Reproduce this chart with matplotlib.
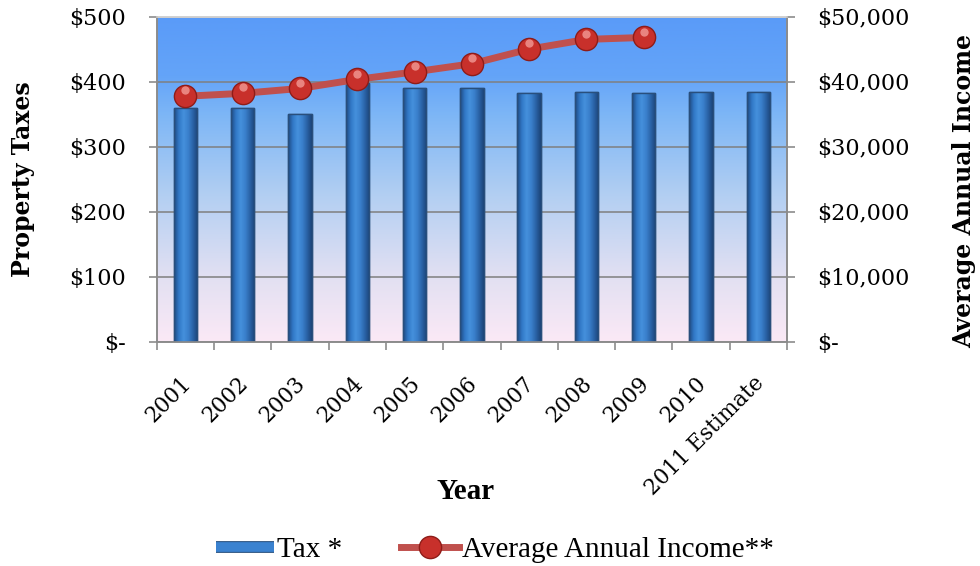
import matplotlib
matplotlib.use("Agg")
import matplotlib.pyplot as plt
import matplotlib.patheffects as pe
import matplotlib.transforms as mtrans
import numpy as np
from matplotlib.colors import LinearSegmentedColormap
from matplotlib.lines import Line2D

years = ["2001", "2002", "2003", "2004", "2005", "2006", "2007", "2008",
         "2009", "2010", "2011 Estimate"]
tax = [360, 360, 350, 398, 391, 391, 383, 385, 383, 385, 385]
income = [37800, 38250, 39000, 40400, 41550, 42800, 45050, 46550, 46850]

left_labels = ["$-", "$100", "$200", "$300", "$400", "$500"]
right_labels = ["$-", "$10,000", "$20,000", "$30,000", "$40,000", "$50,000"]

plt.rcParams['font.family'] = ["DejaVu Serif"]
times = ["Liberation Serif", "DejaVu Serif"]

fig = plt.figure(figsize=(9.8, 5.66), dpi=100)
ax = fig.add_axes([0.160, 0.396, 0.643, 0.574])
ax2 = ax.twinx()

# plot area background, blue at top fading to pink
bg = LinearSegmentedColormap.from_list(
    "bg", [(0, "#fbe9f6"), (0.2, "#e2e0f2"), (0.45, "#b3cff2"),
           (0.7, "#7db6f6"), (0.82, "#64a4f8"), (1, "#5a9bf8")])
ax.imshow(np.linspace(0, 1, 256).reshape(-1, 1), cmap=bg, aspect="auto",
          extent=[0, 1, 0, 1], transform=ax.transAxes, origin="lower", zorder=0)

x = np.arange(len(years))
bars = ax.bar(x, tax, width=0.41, color="#2f6fb8", edgecolor="#27507f",
              linewidth=1.0, zorder=3)
# cylinder-like shading across each bar
barcm = LinearSegmentedColormap.from_list(
    "bar", ["#1f4a82", "#3178c6", "#4590dc", "#3a80cc", "#2a62a6", "#1b4478"])
for b in bars:
    im = ax.imshow(np.linspace(0, 1, 64).reshape(1, -1), cmap=barcm, aspect="auto",
                   extent=[b.get_x(), b.get_x() + b.get_width(), 0, b.get_height()],
                   zorder=3.5)
    im.set_clip_path(b)
    ax.bar(b.get_x() + b.get_width() / 2, b.get_height(), width=b.get_width(),
           fill=False, edgecolor="#294f7c", linewidth=1.0, zorder=4)

ax.set_xlim(-0.5, len(years) - 0.5)
ax.set_ylim(0, 500)
ax.set_yticks(range(0, 501, 100))
ax.set_yticklabels(left_labels)
ax.yaxis.grid(True, color="#7f7f7f", linewidth=1.1, zorder=1)
ax.set_axisbelow(True)

ax.set_xticks(x)
ax.set_xticklabels(years, rotation=45, ha="right", va="top", rotation_mode="anchor")
ax.set_xticks(np.arange(-0.5, len(years), 1), minor=True)
ax.tick_params(axis="x", which="major", length=0, pad=22, labelsize=15.5)
ax.tick_params(axis="x", which="minor", length=6, color="#8c8c8c", width=1.2,
               direction="out")
ax.tick_params(axis="y", length=6, color="#8c8c8c", width=1.2, labelsize=16, pad=16)
shift = mtrans.ScaledTranslation(-4 / 72, 0, fig.dpi_scale_trans)
for lab in ax.get_xticklabels():
    lab.set_transform(lab.get_transform() + shift)

ax2.plot(x[:len(income)], income, color="#c0504d", linewidth=5,
         marker="o", markersize=16, markerfacecolor="#c8302b",
         markeredgecolor="#8e1c18", markeredgewidth=1.0, zorder=5)
ax2.plot(x[:len(income)], np.array(income) + 900, linestyle="none",
         marker="o", markersize=6, markerfacecolor="#f29a95", alpha=0.8,
         markeredgewidth=0, zorder=6)
ax2.set_ylim(0, 50000)
ax2.set_yticks(range(0, 50001, 10000))
ax2.set_yticklabels(right_labels)
ax2.tick_params(axis="y", length=6, color="#8c8c8c", width=1.2, labelsize=16, pad=16)

for a in (ax, ax2):
    for s in a.spines.values():
        s.set_color("#8c8c8c")
        s.set_linewidth(1.2)
ax.spines["top"].set_color("#d0d0d0")
ax2.spines["top"].set_color("#d0d0d0")

ax.set_ylabel("Property Taxes", fontsize=17, fontweight="bold")
ax.yaxis.set_label_coords(-0.194, 0.5)
ax2.set_ylabel("Average Annual Income", fontsize=17, fontweight="bold", rotation=90)
ax2.yaxis.set_label_coords(1.262, 0.465)
ax.set_xlabel("Year", fontsize=21, fontweight="bold", family=times)
ax.xaxis.set_label_coords(0.49, -0.418)

tax_handle = Line2D([], [], color="#3a82d0", linewidth=7, solid_capstyle="butt",
                    path_effects=[pe.Stroke(linewidth=8.5, foreground="#27507f"),
                                  pe.Normal()])
inc_handle = Line2D([], [], color="#c0504d", linewidth=5, marker="o", markersize=16,
                    markerfacecolor="#c8302b", markeredgecolor="#8e1c18")
fig.legend([tax_handle, inc_handle], ["Tax *", "Average Annual Income**"],
           loc="center", bbox_to_anchor=(0.505, 0.028), ncol=2, frameon=False,
           prop={"family": times, "size": 21}, handlelength=2.0,
           handletextpad=0.1, columnspacing=2.0)

fig.savefig("out.png", dpi=100)
